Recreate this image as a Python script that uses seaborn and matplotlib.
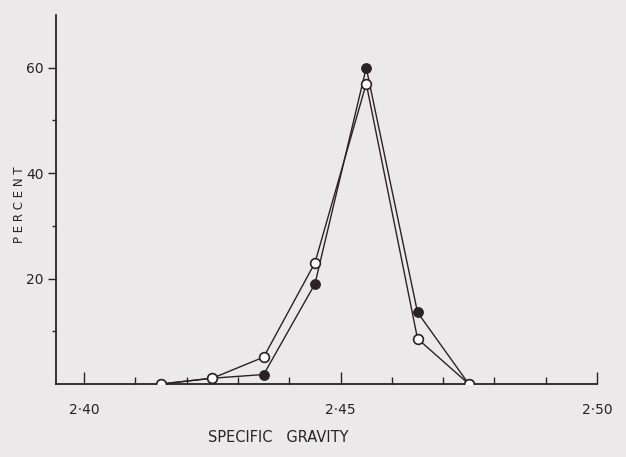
import matplotlib
matplotlib.use("Agg")
import matplotlib.pyplot as plt
import seaborn as sns
import pandas as pd
from matplotlib.ticker import MultipleLocator, FixedLocator, FixedFormatter

sns.set_style("white")
plt.rcParams['font.family'] = ['DejaVu Sans']

gravity = [2.415, 2.425, 2.435, 2.445, 2.455, 2.465, 2.475]
filled_pct = [0, 1.1, 1.8, 19, 60, 13.6, 0]
open_pct = [0, 1.1, 5.1, 23, 57, 8.6, 0]
xtick_vals = [2.40, 2.45, 2.50]
xtick_labels = ["2·40", "2·45", "2·50"]
ytick_vals = [20, 40, 60]

df = pd.concat([
    pd.DataFrame({"gravity": gravity, "percent": filled_pct, "series": "filled"}),
    pd.DataFrame({"gravity": gravity, "percent": open_pct, "series": "open"}),
])

bg = "#ebe9ea"
ink = "#2b2224"
fig = plt.figure(figsize=(6.26, 4.57), dpi=100, facecolor=bg)
ax = fig.add_axes([56/626, 73/457, 541/626, 369/457])
ax.set_facecolor(bg)

sns.lineplot(data=df[df.series == "filled"], x="gravity", y="percent", ax=ax,
             color=ink, lw=1.0, marker="o", markersize=7,
             markerfacecolor=ink, markeredgecolor=ink, zorder=3)
sns.lineplot(data=df[df.series == "open"], x="gravity", y="percent", ax=ax,
             color=ink, lw=1.0, marker="o", markersize=7,
             markerfacecolor="white", markeredgecolor=ink, markeredgewidth=1.2, zorder=4)

ax.set_xlim(2.3945, 2.50)
ax.set_ylim(0, 70)
for s in ["top", "right"]:
    ax.spines[s].set_visible(False)
for s in ["left", "bottom"]:
    ax.spines[s].set_color(ink)
    ax.spines[s].set_linewidth(1.3)

ax.xaxis.set_major_locator(FixedLocator(xtick_vals))
ax.xaxis.set_major_formatter(FixedFormatter(xtick_labels))
ax.xaxis.set_minor_locator(MultipleLocator(0.01))
ax.tick_params(axis="x", which="major", bottom=True, direction="in", length=9, width=1.0,
               color=ink, labelsize=10, labelcolor=ink, pad=14)
ax.tick_params(axis="x", which="minor", bottom=True, direction="in", length=5, width=1.0, color=ink)

ax.yaxis.set_major_locator(FixedLocator(ytick_vals))
ax.yaxis.set_minor_locator(FixedLocator([10, 30, 50]))
ax.tick_params(axis="y", which="major", left=True, direction="out", length=6, width=1.0,
               color=ink, labelsize=10, labelcolor=ink, pad=3)
ax.tick_params(axis="y", which="minor", left=True, direction="out", length=3, width=1.0, color=ink)

ax.set_xlabel("SPECIFIC   GRAVITY", fontsize=10.5, color=ink, labelpad=9)
ax.xaxis.label.set_position((0.41, 0))
ax.set_ylabel("")
fig.text(20/626, 1 - 205/457, "P E R C E N T", rotation=90, fontsize=8.5,
         color=ink, ha="center", va="center")

fig.savefig("out.png", dpi=100, facecolor=bg)
